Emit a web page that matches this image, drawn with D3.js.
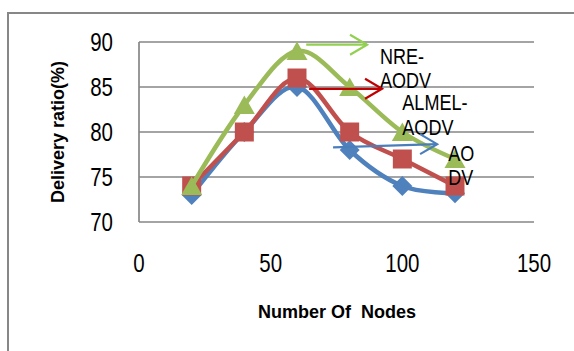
<!DOCTYPE html>
<html lang="en">
<head>
<meta charset="utf-8">
<script src="https://cdn.jsdelivr.net/npm/d3@7/dist/d3.min.js"></script>
<style type="text/css">
body {
	margin: 0;
	background: #fff;
}
</style>
</head>
<body>
<script type="text/javascript">

// Data
var nodes = [20, 40, 60, 80, 100, 120];
var aodv = [73, 80, 85, 78, 74, 73.2];
var almelAodv = [74, 80, 86, 80, 77, 74];
var nreAodv = [74, 83, 89, 85, 80, 77];
var xTicks = [0, 50, 100, 150];
var yTicks = [70, 75, 80, 85, 90];

var series = [
	{name: "AODV", values: aodv, color: "#4F81BD", marker: "diamond"},
	{name: "ALMEL-AODV", values: almelAodv, color: "#C0504D", marker: "square"},
	{name: "NRE-AODV", values: nreAodv, color: "#9BBB59", marker: "triangle"}
];

// callout arrows + labels, in data units
var callouts = [
	{lines: ["NRE-", "AODV"], color: "#92D050", from: [63.5, 89.7], to: [86.6, 89.7], text: [91.5, 87.6]},
	{lines: ["ALMEL-", "AODV"], color: "#C00000", from: [64.6, 84.8], to: [92.3, 84.8], text: [100, 82.4]},
	{lines: ["AO", "DV"], color: "#4A7EBB", from: [73.7, 78.3], to: [113.2, 78.65], text: [117.4, 76.8]}
];

var width = 574;
var height = 351;

// is there a real narrow face? otherwise squeeze Liberation Sans
function hasFont(name) {
	var c = document.createElement("canvas").getContext("2d");
	c.font = "40px monospace";
	var a = c.measureText("AODV 0123").width;
	c.font = "40px '" + name + "', monospace";
	return c.measureText("AODV 0123").width !== a;
}
var narrow = hasFont("Liberation Sans Narrow");
var narrowFamily = narrow ? "'Liberation Sans Narrow'" : "'Liberation Sans', Arial, sans-serif";
var squeeze = narrow ? 1 : 0.82;

var svg = d3.select("body")
	.append("svg")
	.attr("width", width)
	.attr("height", height);

// outer chart frame (cut off at right and bottom)
svg.append("path")
	.attr("d", "M8,351 L8,13 L574,13")
	.attr("fill", "none")
	.attr("stroke", "#878787")
	.attr("stroke-width", 2);

var x = d3.scaleLinear().domain([0, 150]).range([139, 534]);
var y = d3.scaleLinear().domain([70, 90]).range([222, 42]);

// gridlines
svg.append("g")
	.selectAll("line")
	.data(yTicks)
	.enter()
	.append("line")
	.attr("x1", x(0))
	.attr("x2", x(150))
	.attr("y1", d => y(d))
	.attr("y2", d => y(d))
	.attr("stroke", "#868686")
	.attr("stroke-width", 1.7);

// left edge of plot area
svg.append("line")
	.attr("x1", x(0)).attr("x2", x(0))
	.attr("y1", y(90)).attr("y2", y(70))
	.attr("stroke", "#868686")
	.attr("stroke-width", 1.7);

function narrowText(g, px, py, str, size, anchor) {
	g.append("text")
		.attr("transform", "translate(" + px + "," + py + ") scale(" + squeeze + ",1)")
		.attr("text-anchor", anchor)
		.style("font-family", narrowFamily)
		.style("font-size", size + "px")
		.attr("fill", "#000")
		.text(str);
}

// tick labels
var tickG = svg.append("g");
yTicks.forEach(function(t) {
	narrowText(tickG, 113, y(t) + 9, t, 25, "end");
});
xTicks.forEach(function(t) {
	narrowText(tickG, x(t), 272, t, 25, "middle");
});

// axis titles
svg.append("text")
	.attr("transform", "translate(64,132) rotate(-90)")
	.attr("text-anchor", "middle")
	.style("font-family", "'Liberation Sans', Arial, sans-serif")
	.style("font-weight", "bold")
	.style("font-size", "18px")
	.text("Delivery ratio(%)");

svg.append("text")
	.attr("x", 337)
	.attr("y", 318)
	.attr("text-anchor", "middle")
	.attr("xml:space", "preserve")
	.style("white-space", "pre")
	.style("font-family", "'Liberation Sans', Arial, sans-serif")
	.style("font-weight", "bold")
	.style("font-size", "18px")
	.text("Number Of  Nodes");

// smoothed lines like Excel
var line = d3.line()
	.x((d, i) => x(nodes[i]))
	.y(d => y(d))
	.curve(d3.curveCardinal.tension(0));

function markerPath(type) {
	if (type === "square") return "M-9.5,-9.5 H9.5 V9.5 H-9.5 Z";
	if (type === "diamond") return "M0,-10 L10,0 L0,10 L-10,0 Z";
	return "M0,-9.5 L10.5,9 L-10.5,9 Z";
}

series.forEach(function(s) {
	var g = svg.append("g");
	g.append("path")
		.attr("d", line(s.values))
		.attr("fill", "none")
		.attr("stroke", s.color)
		.attr("stroke-width", 4.5)
		.attr("stroke-linejoin", "round");
	g.selectAll("path.mark")
		.data(s.values)
		.enter()
		.append("path")
		.attr("class", "mark")
		.attr("transform", (d, i) => "translate(" + x(nodes[i]) + "," + y(d) + ")")
		.attr("d", markerPath(s.marker))
		.attr("fill", s.color);
});

// callouts
callouts.forEach(function(c) {
	var g = svg.append("g");
	var x1 = x(c.from[0]), y1 = y(c.from[1]);
	var x2 = x(c.to[0]), y2 = y(c.to[1]);
	g.append("line")
		.attr("x1", x1).attr("y1", y1)
		.attr("x2", x2).attr("y2", y2)
		.attr("stroke", c.color)
		.attr("stroke-width", 2.2);
	g.append("path")
		.attr("d", "M" + (x2 - 17) + "," + (y2 - 10) + " L" + x2 + "," + y2 + " L" + (x2 - 17) + "," + (y2 + 10))
		.attr("fill", "none")
		.attr("stroke", c.color)
		.attr("stroke-width", 2.2);
	c.lines.forEach(function(l, i) {
		narrowText(g, x(c.text[0]), y(c.text[1]) + i * 24.3, l, 22, "start");
	});
});

</script>
</body>
</html>
